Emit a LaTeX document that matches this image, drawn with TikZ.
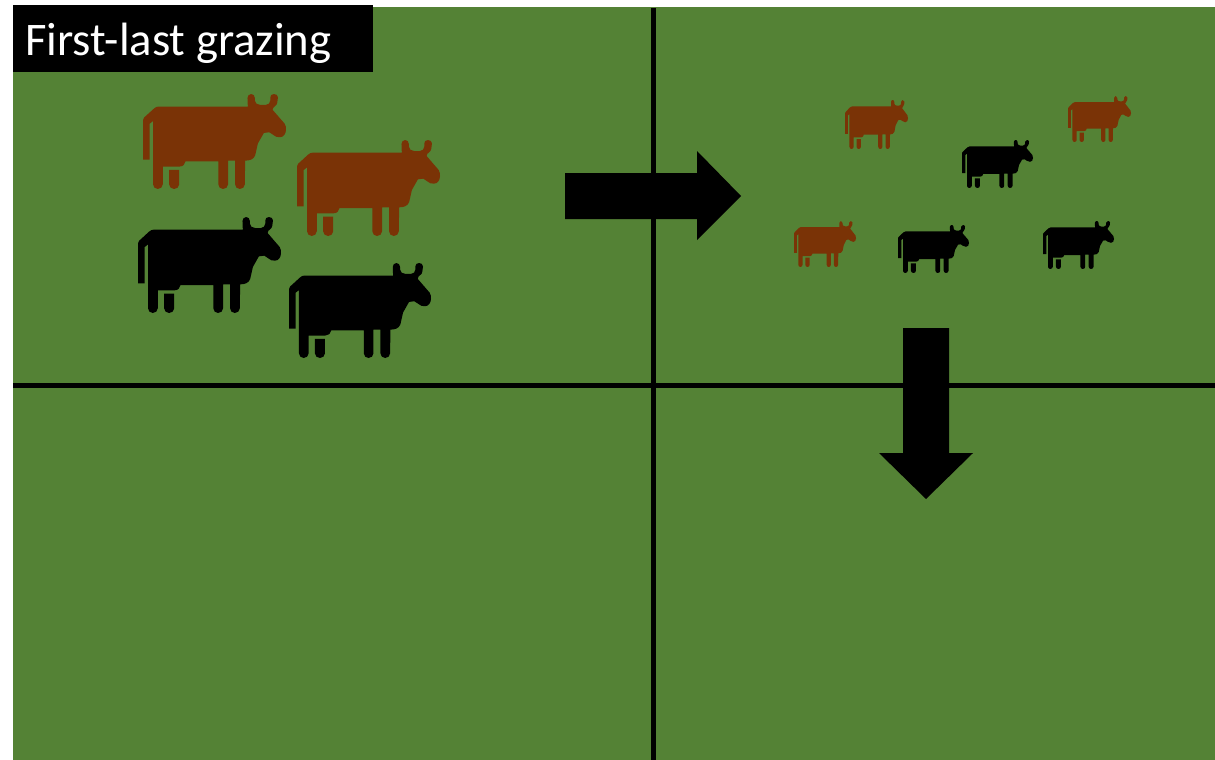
\documentclass[tikz,border=0pt]{standalone}
\usepackage{fontspec}
\setmainfont{Carlito}
\definecolor{pasture}{HTML}{548235}
\definecolor{cowbrown}{HTML}{7A3306}
\tikzset{
  cow/.pic={
    \fill[pic actions]
      (25,100) to[out=-90,in=180] (32,90) -- (58,66) to[out=40,in=180] (72,60) -- (338,60) -- (337,34)
      to[out=90,in=180] (348,22) to[out=0,in=90] (359,34) -- (359,42) to[out=-90,in=180] (375,55) -- (392,55) to[out=0,in=-90] (405,42) -- (405,32)
      to[out=90,in=180] (416,22) to[out=0,in=90] (428,32) -- (426,48) to[out=-90,in=90] (412,70)
      -- (448,112) to[out=-60,in=90] (452,130) to[out=-90,in=0] (434,153) to[out=180,in=-45] (414,146) -- (402,138) -- (386,140) -- (368,172) -- (360,208) to[out=-110,in=0] (330,224)
      -- (329,296) to[out=-90,in=0] (314,310) to[out=180,in=-90] (300,296) -- (300,224) -- (279,224)
      -- (279,296) to[out=-90,in=0] (264,310) to[out=180,in=-90] (250,296) -- (250,226) -- (152,226) to[out=-90,in=0] (134,242) -- (84,242)
      -- (84,296) to[out=-90,in=0] (69,310) to[out=180,in=-90] (55,296) -- (55,104) -- (45,112) -- (45,221) -- (25,221) -- cycle
      (103,252) -- (133,252) -- (133,296) to[out=-90,in=0] (118,310) to[out=180,in=-90] (103,296) -- cycle;
  },
  banner/.style={text=white, font=\fontsize{46.7}{50}\selectfont, anchor=base west, inner sep=0pt},
  divider/.style={line width=5.2pt, draw=black},
  blockarrow/.style={fill=black}
}
% name, left, top, width, height, colour of the cow's bounding box
\newcommand{\placecow}[6]{%
  \pic[fill=#6, xscale=#4/427, yscale=#5/288] (#1) at ({#2-25*#4/427},{#3-22*#5/288}) {cow};
}
\begin{document}
\begin{tikzpicture}[x=1pt,y=-1pt]
\useasboundingbox (0,0) rectangle (1215,760);
\fill[white] (0,0) rectangle (1215,760);
\fill[pasture] (13,7) rectangle (1215,760);
% dividers
\coordinate (vt) at (653.5,8);
\coordinate (vb) at (653.5,760);
\coordinate (hl) at (13,385.5);
\coordinate (hr) at (1215,385.5);
\draw[divider] (vt) -- (vb);
\draw[divider] (hl) -- (hr);
% label
\fill[black] (13,5) rectangle (373,72);
\node[banner] (title) at (25,56) {First-last grazing};
% big cows
\placecow{c1}{143}{94}{143}{95}{cowbrown}
\placecow{c2}{297}{140}{143}{96}{cowbrown}
\placecow{c3}{138}{217}{143}{96}{black}
\placecow{c4}{289}{263}{142}{95}{black}
% small cows
\placecow{s1}{845}{100}{63}{49}{cowbrown}
\placecow{s2}{1068}{96}{63}{46}{cowbrown}
\placecow{s3}{962}{140}{71}{48}{black}
\placecow{s4}{794}{221}{62}{46}{cowbrown}
\placecow{s5}{898}{225}{71}{48}{black}
\placecow{s6}{1043}{221}{71}{48}{black}
% block arrows
\fill[blockarrow] (565,173) -- (697,173) -- (697,151) -- (741,196) -- (697,240) -- (697,219) -- (565,219) -- cycle;
\fill[blockarrow] (903,328) -- (949,328) -- (949,453) -- (973,453) -- (926,499) -- (879,453) -- (903,453) -- cycle;
\end{tikzpicture}
\end{document}
